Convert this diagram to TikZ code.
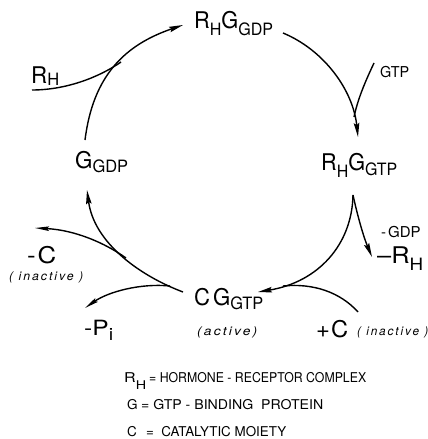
\documentclass[tikz,border=0pt]{standalone}
\usepackage{fontspec}
\usepackage{graphicx}
\setmainfont{TeX Gyre Heros}
\newfontfamily\spacedfont[LetterSpace=16]{TeX Gyre Heros}
\newfontfamily\legfont{TeX Gyre Heros}
\usetikzlibrary{arrows.meta}
\newcommand\bigtxt{\fontsize{23}{23}\selectfont}
\newcommand\subtxt[2]{\raisebox{-#1pt}{\fontsize{17}{17}\selectfont #2}}
\newcommand\legsub[1]{\raisebox{-7pt}{\fontsize{12}{12}\selectfont #1}}
\newcommand\fitw[2]{\resizebox{#1}{\height}{#2}}
\begin{document}
\begin{tikzpicture}[x=1pt,y=-1pt,
  lbl/.style={inner sep=0pt, anchor=base west, font=\bigtxt},
  note/.style={inner sep=0pt, anchor=base west, font={\spacedfont\itshape\fontsize{12}{12}\selectfont}},
  leg/.style={inner sep=0pt, anchor=base west, font={\legfont\fontsize{13.5}{13.5}\selectfont}},
  flow/.style={line width=1.4pt, -{Stealth[length=14pt,width=5.5pt,inset=2pt]}},
  outflow/.style={line width=1.4pt, -{Stealth[length=14pt,width=4.5pt,inset=2pt]}},
  feed/.style={line width=1.4pt}]
\useasboundingbox (0,0) rectangle (428,439);

% main species
\node[lbl] (rhgdp) at (194,28) {\fitw{79pt}{R\subtxt{7}{H}G\subtxt{7}{GDP}}};
\node[lbl] (ggdp) at (75,168) {\fitw{53pt}{G\subtxt{4}{GDP}}};
\node[lbl] (rhgtp) at (321,170) {\fitw{76pt}{R\subtxt{7}{H}G\subtxt{5}{GTP}}};
\node[lbl] (cgtp) at (194,305) {\fitw{69pt}{C\hspace{3pt}G\subtxt{4}{GTP}}};
\node[note] (active) at (197,335) {\fitw{60pt}{(active)}};

% side labels
\node[lbl, font=\fontsize{23}{23}\selectfont] (rhin) at (31,83) {\fitw{28pt}{R\subtxt{2}{H}}};
\node[lbl, font=\fontsize{15}{15}\selectfont] (gtp) at (380,77) {\fitw{29pt}{GTP}};
\node[lbl, font=\fontsize{15}{15}\selectfont] (mgdp) at (381,237) {-\hspace{2pt}GDP};
\node[lbl, font=\fontsize{23}{23}\selectfont] (mrh) at (377,263) {\fitw{46pt}{--R\subtxt{7}{H}}};
\node[lbl] (mc) at (27,263) {\fitw{29pt}{-\hspace{1.5pt}C}};
\node[note] (mcin) at (9,280) {\fitw{74pt}{( inactive )}};
\node[lbl, font=\fontsize{21}{21}\selectfont] (mpi) at (84,335) {\fitw{29pt}{-P\subtxt{5}{i}}};
\node[lbl, font=\fontsize{23}{23}\selectfont] (pc) at (316,337) {\fitw{32pt}{+\hspace{1pt}C}};
\node[note] (pcin) at (357,335) {\fitw{71pt}{( inactive )}};

% legend
\node[leg] (l1a) at (124,382) {\fitw{22pt}{R\legsub{H}}};
\node[leg] (l1b) at (149,382) {\fitw{217pt}{= HORMONE - RECEPTOR COMPLEX}};
\node[leg] (l2a) at (127,409) {G};
\node[leg] (l2b) at (141,409) {\fitw{182pt}{= GTP - BINDING\ \ PROTEIN}};
\node[leg] (l3a) at (127,436) {C};
\node[leg] (l3b) at (146,436) {\fitw{140pt}{=\ \ CATALYTIC MOIETY}};

% connector end points
\coordinate (a1s) at (85,140);
\coordinate (a1e) at (183,25);
\coordinate (a1m) at (121,62);
\coordinate (rhs) at (32,90);
\coordinate (a2s) at (283,33);
\coordinate (a2e) at (358,137);
\coordinate (gtps) at (374,63);
\coordinate (gtpm) at (354,117);
\coordinate (a3s) at (353,195);
\coordinate (a3e) at (258,292);
\coordinate (rhe) at (372,257);
\coordinate (pcs) at (358,312);
\coordinate (pcm) at (283,286);
\coordinate (a4s) at (183,292);
\coordinate (a4e) at (87,190);
\coordinate (mcs) at (126,258);
\coordinate (mce) at (35,228);
\coordinate (mps) at (170,286);
\coordinate (mpe) at (85,308);

% cycle
\draw[flow] (a1s) .. controls (93,76) and (124.4,45) .. (a1e);
\draw[flow] (a2s) .. controls (324,50) and (353,90) .. (a2e);
\draw[flow] (a3s) .. controls (352,245) and (318,282) .. (a3e);
\draw[flow] (a4s) .. controls (138,275) and (94,242) .. (a4e);

% inputs and outputs
\draw[feed] (rhs) .. controls (65,90) and (98,78) .. (a1m);
\draw[feed] (gtps) .. controls (366,80) and (358,98) .. (gtpm);
\draw[flow] (a3s) .. controls (358,218) and (364,238) .. (rhe);
\draw[feed] (pcs) .. controls (340,292) and (313,283) .. (pcm);
\draw[outflow] (mcs) .. controls (105,243) and (75,230) .. (mce);
\draw[outflow] (mps) .. controls (140,283) and (108,292) .. (mpe);
\end{tikzpicture}
\end{document}
